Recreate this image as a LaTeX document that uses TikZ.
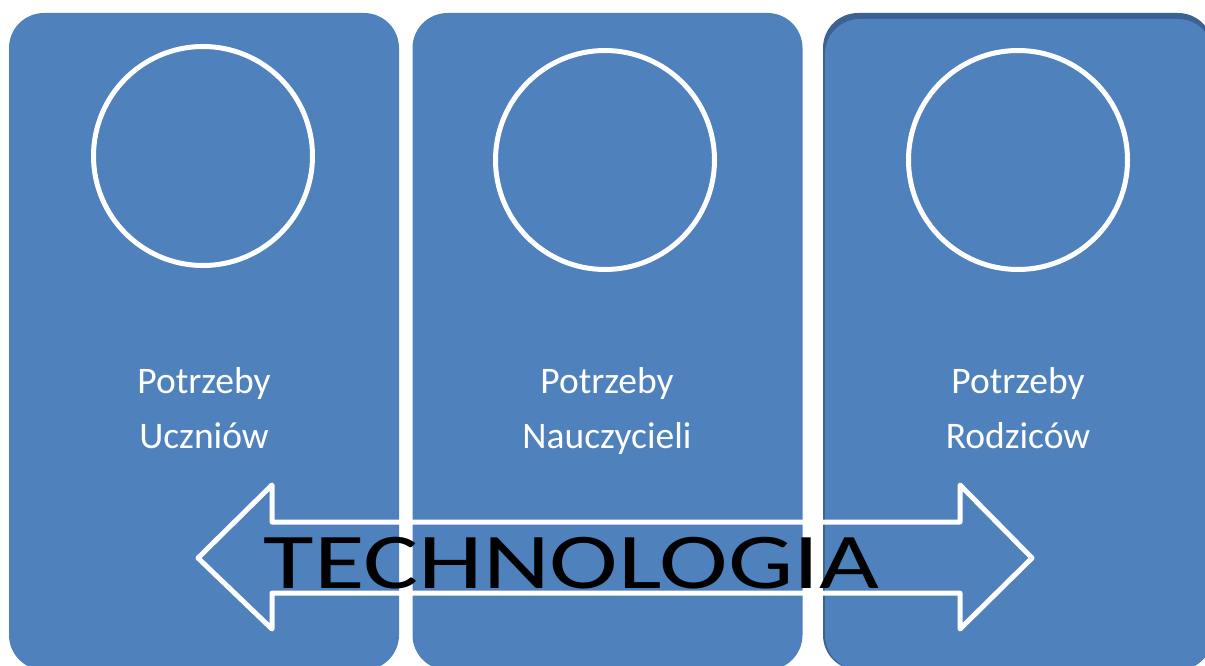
\documentclass[tikz,border=0pt]{standalone}
\usepackage{fontspec}
\setmainfont{Carlito}
\usepackage{xcolor}
\usetikzlibrary{positioning}
\definecolor{panelblue}{HTML}{4F81BD}
\definecolor{paneledge}{HTML}{3C6193}

\begin{document}
\begin{tikzpicture}[x=1pt,y=-1pt,
    panel/.style={rectangle, fill=panelblue, rounded corners=35pt,
      minimum width=390pt, minimum height=657pt, inner sep=0pt, outer sep=0pt},
    ring/.style={circle, draw=white, line width=5pt, minimum size=219pt, inner sep=0pt},
    need/.style={anchor=base, inner sep=0pt, text=white, font=\fontsize{37.5}{45}\selectfont},
    bigarrow/.style={draw=white, line width=5pt, line join=round}]
  \useasboundingbox (0,0) rectangle (1205,666);

  % panels
  \node[panel] (uczniowie) at (204,341.5) {};
  \node[panel] (nauczyciele) at (607.5,341.5) {};
  \node[panel, fill=paneledge] (rodzice0) at (1018,341.5) {};
  \node[panel, minimum width=388pt, minimum height=651pt] (rodzice) at (1019,344.5) {};

  % circles
  \node[ring] (k1) at (203,156) {};
  \node[ring] (k2) at (605,160) {};
  \node[ring] (k3) at (1018,160) {};

  % labels
  \node[need] (t1) at (204,393) {Potrzeby};
  \node[need] (t1b) at (204,448) {Uczniów};
  \node[need] (t2) at (607,393) {Potrzeby};
  \node[need] (t2b) at (607,448) {Nauczycieli};
  \node[need] (t3) at (1018,393) {Potrzeby};
  \node[need] (t3b) at (1018,448) {Rodziców};

  % double arrow
  \coordinate (lt) at (198,558);
  \coordinate (rt) at (1032,558);
  \draw[bigarrow] (lt) -- (272,485) -- (272,522) -- (960,522) -- (960,485) -- (rt)
    -- (960,629) -- (960,593) -- (272,593) -- (272,629) -- cycle;
  \node[anchor=base, inner sep=0pt, xscale=1.31, font=\fontsize{79}{79}\selectfont]
    (tech) at (571.5,588) {TECHNOLOGIA};
\end{tikzpicture}
\end{document}
